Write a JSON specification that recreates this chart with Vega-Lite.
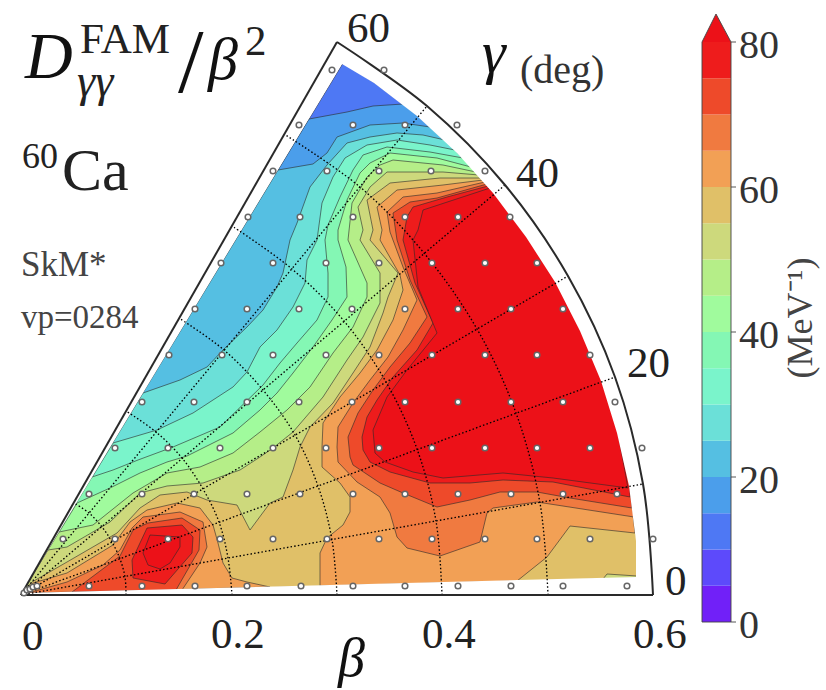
{"$schema":"https://vega.github.io/schema/vega-lite/v6.json","width":826,"height":690,"padding":0,"autosize":{"type":"none"},"background":"white","config":{"view":{"stroke":null}},
"projection":{"type":"identity","reflectY":true,"scale":1000,"translate":[21,595]},
"layer":[
{"data":{"values":[
{"type":"Feature","properties":{"level":10},"geometry":{"type":"Polygon","coordinates":[[[0,0.001],[0.322,0.532],[0.354,0.512],[0.397,0.479],[0.437,0.442],[0.473,0.402],[0.506,0.358],[0.535,0.313],[0.56,0.264],[0.581,0.214],[0.597,0.162],[0.609,0.109],[0.616,0.054],[0.616,0.017],[0,0.001]]]}},
{"type":"Feature","properties":{"level":15},"geometry":{"type":"Polygon","coordinates":[[[0.288,0.476],[0.326,0.483],[0.352,0.489],[0.382,0.491],[0.397,0.479],[0.437,0.442],[0.473,0.402],[0.506,0.358],[0.535,0.313],[0.56,0.264],[0.581,0.214],[0.597,0.162],[0.609,0.109],[0.616,0.054],[0.616,0.017],[0,0.001],[0.288,0.476]]]}},
{"type":"Feature","properties":{"level":20},"geometry":{"type":"Polygon","coordinates":[[[0.257,0.425],[0.292,0.431],[0.306,0.442],[0.316,0.458],[0.349,0.47],[0.382,0.472],[0.409,0.468],[0.437,0.442],[0.473,0.402],[0.506,0.358],[0.535,0.313],[0.56,0.264],[0.581,0.214],[0.597,0.162],[0.609,0.109],[0.616,0.054],[0.616,0.017],[0,0.001],[0.257,0.425]]]}},
{"type":"Feature","properties":{"level":25},"geometry":{"type":"Polygon","coordinates":[[[0.122,0.202],[0.159,0.215],[0.186,0.228],[0.202,0.245],[0.226,0.268],[0.242,0.285],[0.256,0.308],[0.262,0.322],[0.269,0.355],[0.276,0.372],[0.289,0.408],[0.306,0.43],[0.326,0.452],[0.349,0.458],[0.376,0.462],[0.402,0.46],[0.424,0.455],[0.437,0.442],[0.473,0.402],[0.506,0.358],[0.535,0.313],[0.56,0.264],[0.581,0.214],[0.597,0.162],[0.609,0.109],[0.616,0.054],[0.616,0.017],[0,0.001],[0.122,0.202]]]}},
{"type":"Feature","properties":{"level":30},"geometry":{"type":"Polygon","coordinates":[[[0.092,0.152],[0.136,0.165],[0.172,0.182],[0.212,0.208],[0.226,0.223],[0.239,0.248],[0.256,0.265],[0.272,0.288],[0.284,0.312],[0.286,0.335],[0.296,0.355],[0.301,0.392],[0.312,0.418],[0.324,0.437],[0.346,0.45],[0.376,0.455],[0.409,0.45],[0.434,0.445],[0.473,0.402],[0.506,0.358],[0.535,0.313],[0.56,0.264],[0.581,0.214],[0.597,0.162],[0.609,0.109],[0.616,0.054],[0.616,0.017],[0,0.001],[0.092,0.152]]]}},
{"type":"Feature","properties":{"level":35},"geometry":{"type":"Polygon","coordinates":[[[0.071,0.118],[0.092,0.125],[0.117,0.135],[0.152,0.148],[0.199,0.168],[0.242,0.21],[0.259,0.232],[0.276,0.252],[0.296,0.275],[0.307,0.298],[0.307,0.322],[0.304,0.355],[0.307,0.37],[0.319,0.398],[0.332,0.425],[0.342,0.44],[0.366,0.448],[0.409,0.443],[0.442,0.437],[0.473,0.402],[0.506,0.358],[0.535,0.313],[0.56,0.264],[0.581,0.214],[0.597,0.162],[0.609,0.109],[0.616,0.054],[0.616,0.017],[0,0.001],[0.071,0.118]]]}},
{"type":"Feature","properties":{"level":40},"geometry":{"type":"Polygon","coordinates":[[[0.056,0.092],[0.089,0.107],[0.119,0.122],[0.146,0.133],[0.166,0.139],[0.212,0.162],[0.239,0.185],[0.256,0.202],[0.272,0.222],[0.292,0.248],[0.311,0.275],[0.326,0.298],[0.325,0.328],[0.317,0.355],[0.317,0.365],[0.326,0.395],[0.339,0.422],[0.349,0.432],[0.369,0.442],[0.416,0.437],[0.45,0.428],[0.473,0.402],[0.506,0.358],[0.535,0.313],[0.56,0.264],[0.581,0.214],[0.597,0.162],[0.609,0.109],[0.616,0.054],[0.616,0.017],[0,0.001],[0.056,0.092]]]}},
{"type":"Feature","properties":{"level":45},"geometry":{"type":"Polygon","coordinates":[[[0.038,0.063],[0.072,0.07],[0.112,0.102],[0.146,0.122],[0.179,0.128],[0.212,0.142],[0.239,0.163],[0.266,0.185],[0.289,0.208],[0.312,0.242],[0.332,0.268],[0.346,0.298],[0.346,0.312],[0.327,0.355],[0.331,0.392],[0.346,0.418],[0.359,0.43],[0.372,0.435],[0.422,0.43],[0.455,0.423],[0.473,0.402],[0.506,0.358],[0.535,0.313],[0.56,0.264],[0.581,0.214],[0.597,0.162],[0.609,0.109],[0.616,0.054],[0.616,0.017],[0,0.001],[0.038,0.063]]]}},
{"type":"Feature","properties":{"level":50},"geometry":{"type":"Polygon","coordinates":[[[0.027,0.045],[0.046,0.048],[0.089,0.073],[0.119,0.102],[0.146,0.109],[0.182,0.112],[0.219,0.125],[0.239,0.138],[0.252,0.147],[0.272,0.163],[0.302,0.198],[0.326,0.235],[0.342,0.258],[0.359,0.292],[0.359,0.322],[0.339,0.355],[0.342,0.365],[0.337,0.388],[0.349,0.408],[0.366,0.423],[0.422,0.423],[0.458,0.42],[0.473,0.402],[0.506,0.358],[0.535,0.313],[0.56,0.264],[0.581,0.214],[0.597,0.162],[0.609,0.109],[0.616,0.054],[0.616,0.017],[0,0.001],[0.027,0.045]]]}},
{"type":"Feature","properties":{"level":55},"geometry":{"type":"Polygon","coordinates":[[[0,0.001],[0.011,0.013],[0.046,0.033],[0.096,0.062],[0.119,0.087],[0.139,0.1],[0.166,0.103],[0.186,0.095],[0.216,0.09],[0.229,0.065],[0.249,0.092],[0.262,0.098],[0.272,0.125],[0.279,0.148],[0.289,0.168],[0.312,0.192],[0.332,0.222],[0.349,0.248],[0.362,0.282],[0.367,0.298],[0.377,0.322],[0.349,0.355],[0.352,0.365],[0.346,0.395],[0.369,0.412],[0.419,0.417],[0.46,0.417],[0.473,0.402],[0.506,0.358],[0.535,0.313],[0.56,0.264],[0.581,0.214],[0.597,0.162],[0.609,0.109],[0.616,0.054],[0.616,0.019],[0.586,0.021],[0.582,0.016],[0,0.001]]]}},
{"type":"Feature","properties":{"level":60},"geometry":{"type":"Polygon","coordinates":[[[0.462,0.415],[0.422,0.41],[0.376,0.405],[0.356,0.388],[0.361,0.365],[0.359,0.355],[0.379,0.32],[0.382,0.305],[0.372,0.275],[0.356,0.245],[0.339,0.222],[0.319,0.198],[0.302,0.172],[0.301,0.148],[0.301,0.128],[0.319,0.112],[0.329,0.098],[0.329,0.083],[0.322,0.07],[0.306,0.057],[0.299,0.042],[0.299,0.009],[0.496,0.014],[0.526,0.038],[0.549,0.069],[0.614,0.062],[0.609,0.109],[0.597,0.162],[0.581,0.214],[0.56,0.264],[0.535,0.313],[0.506,0.358],[0.473,0.402],[0.462,0.415]]]}},
{"type":"Feature","properties":{"level":60},"geometry":{"type":"Polygon","coordinates":[[[0,0.001],[0.012,0.012],[0.046,0.022],[0.092,0.05],[0.109,0.073],[0.126,0.085],[0.156,0.092],[0.179,0.087],[0.192,0.07],[0.197,0.052],[0.202,0.032],[0.211,0.017],[0.226,0.013],[0.249,0.008],[0,0.001]]]}},
{"type":"Feature","properties":{"level":65},"geometry":{"type":"Polygon","coordinates":[[[0.464,0.413],[0.416,0.402],[0.382,0.398],[0.366,0.383],[0.369,0.363],[0.382,0.328],[0.396,0.295],[0.382,0.265],[0.367,0.238],[0.349,0.215],[0.332,0.192],[0.317,0.168],[0.316,0.148],[0.317,0.133],[0.336,0.113],[0.359,0.098],[0.369,0.082],[0.376,0.058],[0.386,0.047],[0.419,0.039],[0.459,0.053],[0.466,0.082],[0.472,0.087],[0.516,0.093],[0.613,0.078],[0.609,0.109],[0.597,0.162],[0.581,0.214],[0.56,0.264],[0.535,0.313],[0.506,0.358],[0.473,0.402],[0.464,0.413]]]}},
{"type":"Feature","properties":{"level":65},"geometry":{"type":"Polygon","coordinates":[[[0.007,0.002],[0.046,0.013],[0.082,0.03],[0.099,0.045],[0.111,0.067],[0.122,0.078],[0.159,0.083],[0.182,0.073],[0.186,0.048],[0.179,0.032],[0.161,0.005],[0.007,0.002]]]}},
{"type":"Feature","properties":{"level":70},"geometry":{"type":"Polygon","coordinates":[[[0.466,0.411],[0.416,0.397],[0.389,0.393],[0.372,0.382],[0.376,0.355],[0.389,0.315],[0.406,0.278],[0.389,0.252],[0.369,0.228],[0.352,0.205],[0.337,0.182],[0.327,0.158],[0.329,0.138],[0.332,0.13],[0.359,0.112],[0.382,0.102],[0.416,0.088],[0.449,0.095],[0.479,0.103],[0.516,0.103],[0.549,0.097],[0.611,0.087],[0.609,0.109],[0.597,0.162],[0.581,0.214],[0.56,0.264],[0.535,0.313],[0.506,0.358],[0.473,0.402],[0.466,0.411]]]}},
{"type":"Feature","properties":{"level":70},"geometry":{"type":"Polygon","coordinates":[[[0.051,0.003],[0.099,0.039],[0.112,0.065],[0.127,0.072],[0.161,0.077],[0.179,0.065],[0.178,0.045],[0.155,0.005],[0.051,0.003]]]}},
{"type":"Feature","properties":{"level":75},"geometry":{"type":"Polygon","coordinates":[[[0.467,0.409],[0.426,0.398],[0.392,0.388],[0.386,0.378],[0.382,0.355],[0.394,0.312],[0.412,0.272],[0.396,0.245],[0.372,0.218],[0.356,0.195],[0.346,0.178],[0.341,0.158],[0.342,0.145],[0.349,0.133],[0.369,0.123],[0.409,0.112],[0.449,0.112],[0.482,0.115],[0.532,0.113],[0.609,0.098],[0.609,0.109],[0.597,0.162],[0.581,0.214],[0.56,0.264],[0.535,0.313],[0.506,0.358],[0.473,0.402],[0.467,0.409]]]}},
{"type":"Feature","properties":{"level":75},"geometry":{"type":"Polygon","coordinates":[[[0.126,0.067],[0.161,0.07],[0.172,0.058],[0.171,0.042],[0.144,0.011],[0.112,0.017],[0.111,0.035],[0.126,0.067]]]}},
{"type":"Feature","properties":{"level":80},"geometry":{"type":"Polygon","coordinates":[[[0.469,0.407],[0.402,0.385],[0.397,0.365],[0.392,0.355],[0.397,0.308],[0.416,0.262],[0.386,0.225],[0.366,0.198],[0.352,0.165],[0.354,0.142],[0.364,0.133],[0.392,0.123],[0.422,0.117],[0.482,0.122],[0.532,0.117],[0.607,0.107],[0.597,0.162],[0.581,0.214],[0.56,0.264],[0.535,0.313],[0.506,0.358],[0.473,0.402],[0.469,0.407]]]}},
{"type":"Feature","properties":{"level":80},"geometry":{"type":"Polygon","coordinates":[[[0.129,0.06],[0.159,0.058],[0.159,0.048],[0.149,0.032],[0.139,0.026],[0.127,0.03],[0.122,0.042],[0.129,0.06]]]}}
]},"mark":{"type":"geoshape","stroke":"#2a2a2a","strokeWidth":0.75,"strokeOpacity":0.8},
"encoding":{"fill":{"field":"properties.level","type":"ordinal","legend":null,"scale":{"domain":[0,5,10,15,20,25,30,35,40,45,50,55,60,65,70,75,80],"range":["#7120f8","#5d4afb","#4e78f4","#4b9eeb","#55bfe2","#6be0d8","#7af4cb","#84f7b4","#a0fb9d","#b5ee88","#cdd97c","#e0c068","#f2a055","#f07a40","#ee4a2a","#ee1c1c","#ec1118"]}}}},
{"data":{"values":[{"type":"Feature","properties":{},"geometry":{"type":"Polygon","coordinates":[[[-0.01,-0.005],[0.66,-0.005],[0.66,0.57],[-0.01,0.57],[-0.01,-0.005]],[[0.001,0.002],[0.321,0.531],[0.353,0.512],[0.396,0.479],[0.436,0.442],[0.472,0.402],[0.505,0.358],[0.534,0.313],[0.559,0.264],[0.58,0.214],[0.596,0.162],[0.608,0.109],[0.615,0.054],[0.615,0.018],[0.001,0.002]]]}}]},"mark":{"type":"geoshape","fill":"white","stroke":null},"encoding":{}},
{"data":{"values":[
{"id":"r10","i":0,"x":0,"y":0},{"id":"r10","i":1,"x":0.622,"y":0.111},{"id":"r20","i":0,"x":0,"y":0},{"id":"r20","i":1,"x":0.594,"y":0.218},{"id":"r30","i":0,"x":0,"y":0},{"id":"r30","i":1,"x":0.547,"y":0.319},{"id":"r40","i":0,"x":0,"y":0},{"id":"r40","i":1,"x":0.484,"y":0.41},{"id":"r50","i":0,"x":0,"y":0},{"id":"r50","i":1,"x":0.406,"y":0.489},
{"id":"b1","i":0,"x":0.105,"y":0},{"id":"b1","i":1,"x":0.104,"y":0.018},{"id":"b1","i":2,"x":0.099,"y":0.036},{"id":"b1","i":3,"x":0.091,"y":0.053},{"id":"b1","i":4,"x":0.081,"y":0.068},{"id":"b1","i":5,"x":0.068,"y":0.082},{"id":"b1","i":6,"x":0.053,"y":0.092},
{"id":"b2","i":0,"x":0.211,"y":0},{"id":"b2","i":1,"x":0.207,"y":0.037},{"id":"b2","i":2,"x":0.198,"y":0.073},{"id":"b2","i":3,"x":0.182,"y":0.106},{"id":"b2","i":4,"x":0.161,"y":0.137},{"id":"b2","i":5,"x":0.135,"y":0.163},{"id":"b2","i":6,"x":0.105,"y":0.184},
{"id":"b3","i":0,"x":0.316,"y":0},{"id":"b3","i":1,"x":0.311,"y":0.055},{"id":"b3","i":2,"x":0.297,"y":0.109},{"id":"b3","i":3,"x":0.274,"y":0.16},{"id":"b3","i":4,"x":0.242,"y":0.205},{"id":"b3","i":5,"x":0.203,"y":0.245},{"id":"b3","i":6,"x":0.158,"y":0.277},
{"id":"b4","i":0,"x":0.421,"y":0},{"id":"b4","i":1,"x":0.415,"y":0.074},{"id":"b4","i":2,"x":0.396,"y":0.146},{"id":"b4","i":3,"x":0.365,"y":0.213},{"id":"b4","i":4,"x":0.323,"y":0.274},{"id":"b4","i":5,"x":0.271,"y":0.326},{"id":"b4","i":6,"x":0.211,"y":0.369},
{"id":"b5","i":0,"x":0.527,"y":0},{"id":"b5","i":1,"x":0.519,"y":0.092},{"id":"b5","i":2,"x":0.495,"y":0.182},{"id":"b5","i":3,"x":0.456,"y":0.266},{"id":"b5","i":4,"x":0.403,"y":0.342},{"id":"b5","i":5,"x":0.339,"y":0.408},{"id":"b5","i":6,"x":0.263,"y":0.461}
]},"mark":{"type":"line","interpolate":"cardinal","stroke":"#000000","strokeWidth":1.35,"strokeDash":[1.5,2.2]},"encoding":{"longitude":{"field":"x","type":"quantitative"},"latitude":{"field":"y","type":"quantitative"},"detail":{"field":"id"},"order":{"field":"i"}}},
{"data":{"values":[
{"id":"bottom","i":0,"x":0,"y":0},{"id":"bottom","i":1,"x":0.632,"y":0},{"id":"left","i":0,"x":0,"y":0},{"id":"left","i":1,"x":0.316,"y":0.553},
{"id":"arc","i":0,"x":0.632,"y":0},{"id":"arc","i":1,"x":0.622,"y":0.111},{"id":"arc","i":2,"x":0.594,"y":0.218},{"id":"arc","i":3,"x":0.547,"y":0.319},{"id":"arc","i":4,"x":0.484,"y":0.41},{"id":"arc","i":5,"x":0.406,"y":0.489},{"id":"arc","i":6,"x":0.316,"y":0.553}
]},"mark":{"type":"line","interpolate":"cardinal","stroke":"#2a2a2a","strokeWidth":2},"encoding":{"longitude":{"field":"x","type":"quantitative"},"latitude":{"field":"y","type":"quantitative"},"detail":{"field":"id"},"order":{"field":"i"}}},
{"data":{"values":[
{"x":0.003,"y":0.002},{"x":0.006,"y":0.005},{"x":0.009,"y":0.006},{"x":0.012,"y":0.008},
{"x":0.016,"y":0.009},{"x":0.068,"y":0.009},{"x":0.121,"y":0.009},{"x":0.174,"y":0.009},{"x":0.226,"y":0.009},{"x":0.28,"y":0.009},{"x":0.332,"y":0.009},{"x":0.384,"y":0.009},{"x":0.437,"y":0.009},{"x":0.49,"y":0.009},{"x":0.542,"y":0.009},{"x":0.606,"y":0.009},
{"x":0.042,"y":0.056},{"x":0.094,"y":0.056},{"x":0.147,"y":0.056},{"x":0.199,"y":0.056},{"x":0.252,"y":0.056},{"x":0.306,"y":0.056},{"x":0.358,"y":0.056},{"x":0.411,"y":0.056},{"x":0.464,"y":0.056},{"x":0.516,"y":0.056},{"x":0.569,"y":0.056},{"x":0.632,"y":0.056},
{"x":0.068,"y":0.101},{"x":0.121,"y":0.101},{"x":0.173,"y":0.101},{"x":0.226,"y":0.101},{"x":0.279,"y":0.101},{"x":0.332,"y":0.101},{"x":0.384,"y":0.101},{"x":0.437,"y":0.101},{"x":0.49,"y":0.101},{"x":0.542,"y":0.101},{"x":0.596,"y":0.101},
{"x":0.094,"y":0.147},{"x":0.147,"y":0.147},{"x":0.199,"y":0.147},{"x":0.252,"y":0.147},{"x":0.305,"y":0.147},{"x":0.358,"y":0.147},{"x":0.411,"y":0.147},{"x":0.464,"y":0.147},{"x":0.516,"y":0.147},{"x":0.569,"y":0.147},{"x":0.621,"y":0.147},
{"x":0.121,"y":0.193},{"x":0.173,"y":0.193},{"x":0.226,"y":0.193},{"x":0.278,"y":0.193},{"x":0.331,"y":0.193},{"x":0.384,"y":0.193},{"x":0.437,"y":0.193},{"x":0.49,"y":0.193},{"x":0.542,"y":0.193},{"x":0.594,"y":0.193},
{"x":0.148,"y":0.24},{"x":0.201,"y":0.24},{"x":0.252,"y":0.24},{"x":0.305,"y":0.24},{"x":0.358,"y":0.24},{"x":0.411,"y":0.24},{"x":0.464,"y":0.24},{"x":0.516,"y":0.24},{"x":0.569,"y":0.24},
{"x":0.174,"y":0.286},{"x":0.226,"y":0.286},{"x":0.278,"y":0.286},{"x":0.331,"y":0.286},{"x":0.384,"y":0.286},{"x":0.437,"y":0.286},{"x":0.49,"y":0.286},{"x":0.542,"y":0.286},
{"x":0.2,"y":0.332},{"x":0.252,"y":0.332},{"x":0.305,"y":0.332},{"x":0.358,"y":0.332},{"x":0.411,"y":0.332},{"x":0.464,"y":0.332},{"x":0.516,"y":0.332},
{"x":0.227,"y":0.378},{"x":0.279,"y":0.378},{"x":0.332,"y":0.378},{"x":0.384,"y":0.378},{"x":0.437,"y":0.378},{"x":0.489,"y":0.378},
{"x":0.252,"y":0.424},{"x":0.306,"y":0.424},{"x":0.358,"y":0.424},{"x":0.41,"y":0.424},{"x":0.464,"y":0.424},
{"x":0.278,"y":0.47},{"x":0.332,"y":0.47},{"x":0.384,"y":0.47},{"x":0.436,"y":0.47},
{"x":0.311,"y":0.525},{"x":0.363,"y":0.525}
]},"mark":{"type":"point","filled":true,"fill":"white","stroke":"#666666","strokeWidth":1.5,"size":32,"opacity":1},"encoding":{"longitude":{"field":"x","type":"quantitative"},"latitude":{"field":"y","type":"quantitative"}}},
{"data":{"values":[
{"type":"Feature","properties":{"level":0},"geometry":{"type":"Polygon","coordinates":[[[0.681,-0.027],[0.71,-0.027],[0.71,0.00925],[0.681,0.00925],[0.681,-0.027]]]}},
{"type":"Feature","properties":{"level":5},"geometry":{"type":"Polygon","coordinates":[[[0.681,0.00925],[0.71,0.00925],[0.71,0.0455],[0.681,0.0455],[0.681,0.00925]]]}},
{"type":"Feature","properties":{"level":10},"geometry":{"type":"Polygon","coordinates":[[[0.681,0.0455],[0.71,0.0455],[0.71,0.08175],[0.681,0.08175],[0.681,0.0455]]]}},
{"type":"Feature","properties":{"level":15},"geometry":{"type":"Polygon","coordinates":[[[0.681,0.08175],[0.71,0.08175],[0.71,0.118],[0.681,0.118],[0.681,0.08175]]]}},
{"type":"Feature","properties":{"level":20},"geometry":{"type":"Polygon","coordinates":[[[0.681,0.118],[0.71,0.118],[0.71,0.15425],[0.681,0.15425],[0.681,0.118]]]}},
{"type":"Feature","properties":{"level":25},"geometry":{"type":"Polygon","coordinates":[[[0.681,0.15425],[0.71,0.15425],[0.71,0.1905],[0.681,0.1905],[0.681,0.15425]]]}},
{"type":"Feature","properties":{"level":30},"geometry":{"type":"Polygon","coordinates":[[[0.681,0.1905],[0.71,0.1905],[0.71,0.22675],[0.681,0.22675],[0.681,0.1905]]]}},
{"type":"Feature","properties":{"level":35},"geometry":{"type":"Polygon","coordinates":[[[0.681,0.22675],[0.71,0.22675],[0.71,0.263],[0.681,0.263],[0.681,0.22675]]]}},
{"type":"Feature","properties":{"level":40},"geometry":{"type":"Polygon","coordinates":[[[0.681,0.263],[0.71,0.263],[0.71,0.29925],[0.681,0.29925],[0.681,0.263]]]}},
{"type":"Feature","properties":{"level":45},"geometry":{"type":"Polygon","coordinates":[[[0.681,0.29925],[0.71,0.29925],[0.71,0.3355],[0.681,0.3355],[0.681,0.29925]]]}},
{"type":"Feature","properties":{"level":50},"geometry":{"type":"Polygon","coordinates":[[[0.681,0.3355],[0.71,0.3355],[0.71,0.37175],[0.681,0.37175],[0.681,0.3355]]]}},
{"type":"Feature","properties":{"level":55},"geometry":{"type":"Polygon","coordinates":[[[0.681,0.37175],[0.71,0.37175],[0.71,0.408],[0.681,0.408],[0.681,0.37175]]]}},
{"type":"Feature","properties":{"level":60},"geometry":{"type":"Polygon","coordinates":[[[0.681,0.408],[0.71,0.408],[0.71,0.44425],[0.681,0.44425],[0.681,0.408]]]}},
{"type":"Feature","properties":{"level":65},"geometry":{"type":"Polygon","coordinates":[[[0.681,0.44425],[0.71,0.44425],[0.71,0.4805],[0.681,0.4805],[0.681,0.44425]]]}},
{"type":"Feature","properties":{"level":70},"geometry":{"type":"Polygon","coordinates":[[[0.681,0.4805],[0.71,0.4805],[0.71,0.51675],[0.681,0.51675],[0.681,0.4805]]]}},
{"type":"Feature","properties":{"level":75},"geometry":{"type":"Polygon","coordinates":[[[0.681,0.51675],[0.71,0.51675],[0.71,0.553],[0.681,0.553],[0.681,0.51675]]]}},
{"type":"Feature","properties":{"level":80},"geometry":{"type":"Polygon","coordinates":[[[0.681,0.553],[0.71,0.553],[0.695,0.581],[0.681,0.553]]]}}
]},"mark":{"type":"geoshape","stroke":null},"encoding":{"fill":{"field":"properties.level","type":"ordinal","legend":null}}},
{"data":{"values":[
{"type":"Feature","properties":{},"geometry":{"type":"LineString","coordinates":[[0.681,-0.027],[0.71,-0.027],[0.71,0.553],[0.695,0.581],[0.681,0.553],[0.681,-0.027]]}},
{"type":"Feature","properties":{},"geometry":{"type":"MultiLineString","coordinates":[[[0.71,-0.027],[0.715,-0.027]],[[0.71,0.118],[0.715,0.118]],[[0.71,0.263],[0.715,0.263]],[[0.71,0.408],[0.715,0.408]],[[0.71,0.553],[0.715,0.553]]]}}
]},"mark":{"type":"geoshape","filled":false,"stroke":"#444444","strokeWidth":0.9},"encoding":{}},
{"data":{"values":[{"x":0.004,"y":0.517,"t":"D"}]},"mark":{"type":"text","font":"Liberation Serif","fontStyle":"italic","fontSize":66,"align":"left","baseline":"alphabetic","fill":"#111111"},"encoding":{"longitude":{"field":"x","type":"quantitative"},"latitude":{"field":"y","type":"quantitative"},"text":{"field":"t"}}},
{"data":{"values":[{"x":0.187,"y":0.516,"t":"β"},{"x":0.461,"y":0.523,"t":"γ"}]},"mark":{"type":"text","font":"Liberation Serif","fontStyle":"italic","fontSize":60,"align":"left","baseline":"alphabetic","fill":"#111111"},"encoding":{"longitude":{"field":"x","type":"quantitative"},"latitude":{"field":"y","type":"quantitative"},"text":{"field":"t"}}},
{"data":{"values":[{"x":0.317,"y":-0.081,"t":"β"}]},"mark":{"type":"text","font":"Liberation Serif","fontStyle":"italic","fontSize":54,"align":"left","baseline":"alphabetic","fill":"#111111"},"encoding":{"longitude":{"field":"x","type":"quantitative"},"latitude":{"field":"y","type":"quantitative"},"text":{"field":"t"}}},
{"data":{"values":[{"x":0.056,"y":0.499,"t":"γγ"}]},"mark":{"type":"text","font":"Liberation Serif","fontStyle":"italic","fontSize":46,"align":"left","baseline":"alphabetic","fill":"#222222"},"encoding":{"longitude":{"field":"x","type":"quantitative"},"latitude":{"field":"y","type":"quantitative"},"text":{"field":"t"}}},
{"data":{"values":[{"x":0.157,"y":0.503,"t":"/"}]},"mark":{"type":"text","font":"Liberation Serif","fontSize":92,"align":"left","baseline":"alphabetic","fill":"#111111"},"encoding":{"longitude":{"field":"x","type":"quantitative"},"latitude":{"field":"y","type":"quantitative"},"text":{"field":"t"}}},
{"data":{"values":[{"x":0.059,"y":0.542,"t":"FAM"},{"x":0.224,"y":0.54,"t":"2"},{"x":0.001,"y":-0.055,"t":"0"},{"x":0.19,"y":-0.053,"t":"0.2"},{"x":0.401,"y":-0.053,"t":"0.4"},{"x":0.612,"y":-0.053,"t":"0.6"},{"x":0.326,"y":0.553,"t":"60"},{"x":0.495,"y":0.408,"t":"40"},{"x":0.606,"y":0.218,"t":"20"},{"x":0.644,"y":0,"t":"0"}]},"mark":{"type":"text","font":"Liberation Serif","fontSize":43,"align":"left","baseline":"alphabetic","fill":"#222222"},"encoding":{"longitude":{"field":"x","type":"quantitative"},"latitude":{"field":"y","type":"quantitative"},"text":{"field":"t"}}},
{"data":{"values":[{"x":0.718,"y":0.537,"t":"80"},{"x":0.718,"y":0.392,"t":"60"},{"x":0.718,"y":0.247,"t":"40"},{"x":0.718,"y":0.102,"t":"20"},{"x":0.718,"y":-0.043,"t":"0"},{"x":0.499,"y":0.512,"t":"(deg)"}]},"mark":{"type":"text","font":"Liberation Serif","fontSize":40,"align":"left","baseline":"alphabetic","fill":"#333333"},"encoding":{"longitude":{"field":"x","type":"quantitative"},"latitude":{"field":"y","type":"quantitative"},"text":{"field":"t"}}},
{"data":{"values":[{"x":0.001,"y":0.427,"t":"60"}]},"mark":{"type":"text","font":"Liberation Serif","fontSize":36,"align":"left","baseline":"alphabetic","fill":"#222222"},"encoding":{"longitude":{"field":"x","type":"quantitative"},"latitude":{"field":"y","type":"quantitative"},"text":{"field":"t"}}},
{"data":{"values":[{"x":0.041,"y":0.405,"t":"Ca"}]},"mark":{"type":"text","font":"Liberation Serif","fontSize":60,"align":"left","baseline":"alphabetic","fill":"#222222"},"encoding":{"longitude":{"field":"x","type":"quantitative"},"latitude":{"field":"y","type":"quantitative"},"text":{"field":"t"}}},
{"data":{"values":[{"x":0,"y":0.319,"t":"SkM*"}]},"mark":{"type":"text","font":"Liberation Serif","fontSize":35,"align":"left","baseline":"alphabetic","fill":"#444444"},"encoding":{"longitude":{"field":"x","type":"quantitative"},"latitude":{"field":"y","type":"quantitative"},"text":{"field":"t"}}},
{"data":{"values":[{"x":0,"y":0.267,"t":"vp=0284"}]},"mark":{"type":"text","font":"Liberation Serif","fontSize":33,"align":"left","baseline":"alphabetic","fill":"#444444"},"encoding":{"longitude":{"field":"x","type":"quantitative"},"latitude":{"field":"y","type":"quantitative"},"text":{"field":"t"}}},
{"data":{"values":[{"x":0.791,"y":0.277,"t":"(MeV⁻¹)"}]},"mark":{"type":"text","font":"Liberation Serif","fontSize":36,"align":"center","baseline":"alphabetic","angle":270,"fill":"#444444"},"encoding":{"longitude":{"field":"x","type":"quantitative"},"latitude":{"field":"y","type":"quantitative"},"text":{"field":"t"}}}
]}
